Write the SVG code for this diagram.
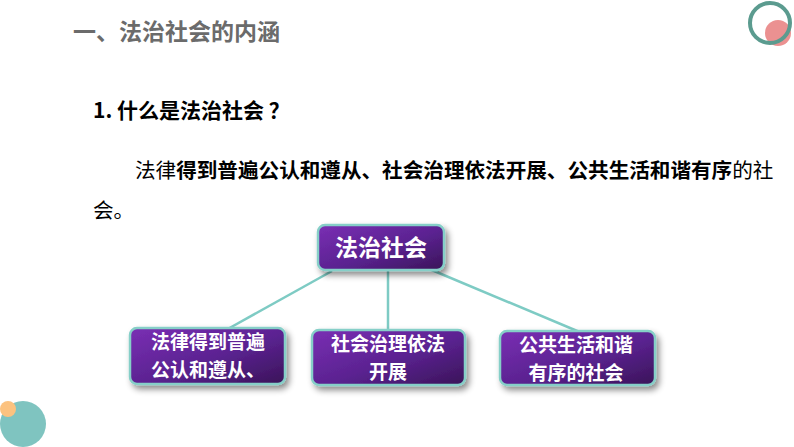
<svg xmlns="http://www.w3.org/2000/svg" width="794" height="447" viewBox="0 0 794 447">
<defs>
<linearGradient id="pg" x1="0" y1="0" x2="1" y2="1">
<stop offset="0" stop-color="#7a2fb4"/>
<stop offset="0.55" stop-color="#5a2290"/>
<stop offset="1" stop-color="#3a1458"/>
</linearGradient>
<filter id="sh" x="-20%" y="-20%" width="150%" height="160%">
<feDropShadow dx="3" dy="4" stdDeviation="3" flood-color="#000" flood-opacity="0.45"/>
</filter>
</defs>
<style>
text{font-family:"Noto Sans CJK SC","Liberation Sans",sans-serif;}
.node rect{fill:url(#pg);stroke:#86cfc8;stroke-width:2.5;filter:url(#sh);}
.nt{fill:#fff;font-weight:bold;font-size:19px;text-anchor:middle;}
.conn line{stroke:#7ecbc4;stroke-width:2.5;}
.b{font-weight:bold;}
</style>
<rect width="794" height="447" fill="#fff"/>
<circle cx="778" cy="33" r="13" fill="#e98585" opacity="0.9"/>
<circle cx="770" cy="23" r="20" fill="none" stroke="#5b9b8f" stroke-width="4"/>
<circle cx="23" cy="424" r="23" fill="#7fc4c0"/>
<circle cx="8" cy="409" r="8" fill="#fcc27f"/>
<text x="73" y="40" font-size="23" font-weight="bold" fill="#6b6b6b">一、法治社会的内涵</text>
<text x="93" y="118" font-size="21" font-weight="bold" fill="#000">1. 什么是法治社会 ？</text>
<text x="135" y="178" font-size="20.6" fill="#000">法律<tspan class="b">得到普遍公认和遵从、社会治理依法开展、公共生活和谐有序</tspan>的社</text>
<text x="93" y="218" font-size="20.6" fill="#000">会。</text>
<g id="connectors" class="conn">
<line x1="332" y1="271" x2="226" y2="330"/>
<line x1="388" y1="271" x2="388" y2="331"/>
<line x1="427" y1="268" x2="582" y2="333"/>
</g>
<g id="n-root" class="node">
<rect x="318" y="225" width="126" height="45" rx="7"/>
<text class="nt" x="381" y="256" style="font-size:23px">法治社会</text>
</g>
<g id="n-1" class="node">
<rect x="130" y="328" width="155" height="56" rx="7"/>
<text class="nt"><tspan x="208" y="349">法律得到普遍</tspan><tspan x="208" y="377">公认和遵从、</tspan></text>
</g>
<g id="n-2" class="node">
<rect x="312" y="330" width="153" height="55" rx="7"/>
<text class="nt"><tspan x="388" y="351">社会治理依法</tspan><tspan x="388" y="379">开展</tspan></text>
</g>
<g id="n-3" class="node">
<rect x="500" y="331" width="155" height="54" rx="7"/>
<text class="nt"><tspan x="576" y="352">公共生活和谐</tspan><tspan x="576" y="380">有序的社会</tspan></text>
</g>
</svg>
